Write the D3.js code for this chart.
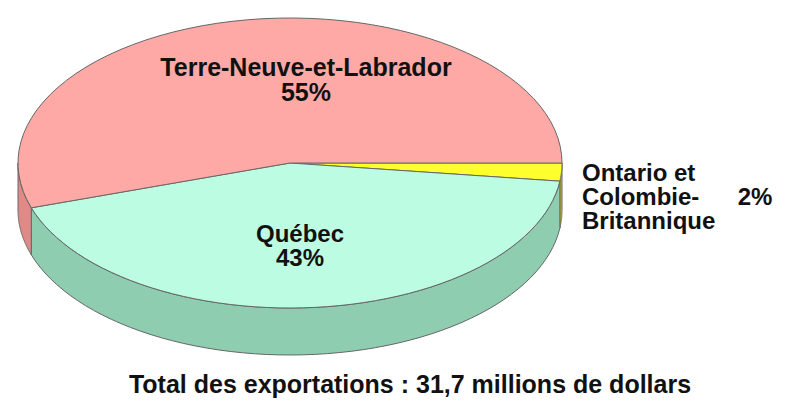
<!DOCTYPE html>
<html><head><meta charset="utf-8">
<script src="https://cdn.jsdelivr.net/npm/d3@7"></script>
<style>body{margin:0;background:#fff}text{font-family:"Liberation Sans",Arial,sans-serif;font-weight:bold;fill:#111}</style>
</head><body>
<svg id="c" width="800" height="406"></svg>
<script>
const regions = ["Ontario et Colombie-Britannique", "Québec", "Terre-Neuve-et-Labrador"]
const shares = [2, 43, 55]
const topColors = ["#FFFF2E", "#BCFCE2", "#FFA9A6"]
const sideColors = ["#C9C900", "#8FCDB1", "#E08A88"]

const cx = 290, cy = 163, rx = 272, ry = 145, depth = 47
const svg = d3.select("#c")

// clockwise from 3 o'clock, no sorting
const pie = d3.pie().sort(null).startAngle(0).endAngle(2 * Math.PI)
const arcs = pie(shares)

const pt = (a, dy = 0) => [cx + rx * Math.cos(a), cy + ry * Math.sin(a) + dy]

function topPath(a0, a1) {
  const n = 60
  const pts = d3.range(n + 1).map(i => pt(a0 + (a1 - a0) * i / n))
  return "M" + cx + "," + cy + "L" + pts.join("L") + "Z"
}
function sidePath(a0, a1) {
  const s = Math.max(a0, 0), e = Math.min(a1, Math.PI)
  if (e <= s) return null
  const n = 60
  const upper = d3.range(n + 1).map(i => pt(s + (e - s) * i / n))
  const lower = d3.range(n + 1).map(i => pt(e - (e - s) * i / n, depth))
  return "M" + upper.join("L") + "L" + lower.join("L") + "Z"
}

arcs.forEach((d, i) => {
  const p = sidePath(d.startAngle, d.endAngle)
  if (p) svg.append("path").attr("d", p).attr("fill", sideColors[i])
    .attr("stroke", "#666").attr("stroke-width", 1)
})
arcs.forEach((d, i) => {
  svg.append("path").attr("d", topPath(d.startAngle, d.endAngle)).attr("fill", topColors[i])
    .attr("stroke", "#666").attr("stroke-width", 1)
})

const fs = 24
const lbl = (x, y, t, anchor = "middle", size = fs) => svg.append("text").attr("x", x).attr("y", y)
  .attr("text-anchor", anchor).attr("font-size", size).text(t)

lbl(306, 76, regions[2], "middle", 25); lbl(306, 101, shares[2] + "%", "middle", 25)
lbl(300, 242, regions[1]); lbl(300, 266, shares[1] + "%")
lbl(582, 181, "Ontario et", "start")
lbl(582, 205, "Colombie-", "start")
lbl(582, 229, "Britannique", "start")
lbl(755, 205, shares[0] + "%")

svg.append("text").attr("x", 410).attr("y", 393).attr("text-anchor", "middle")
  .attr("font-size", 25).text("Total des exportations : 31,7 millions de dollars")
</script>
</body></html>
